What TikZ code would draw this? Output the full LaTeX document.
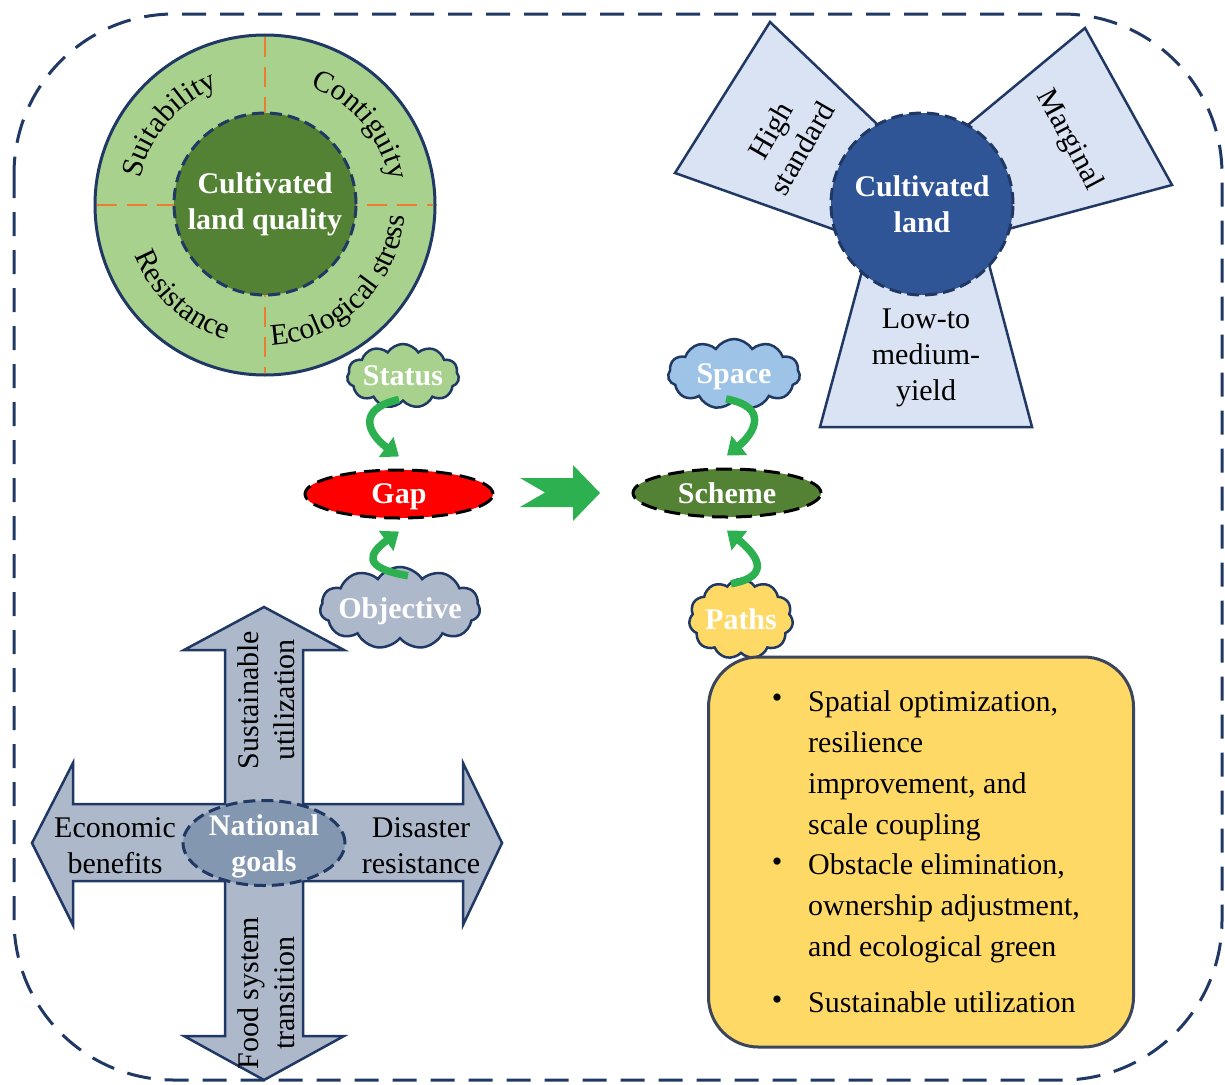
\documentclass[tikz,border=0pt]{standalone}
\usepackage{fontspec}
\setmainfont{Liberation Serif}
\usetikzlibrary{shapes.geometric,shapes.symbols,decorations.text,arrows.meta}
\definecolor{navy}{RGB}{32,56,100}
\definecolor{ringgreen}{RGB}{169,209,142}
\definecolor{darkgreen}{RGB}{84,130,53}
\definecolor{orangeline}{RGB}{237,125,49}
\definecolor{landblue}{RGB}{47,85,151}
\definecolor{petalblue}{RGB}{218,227,243}
\definecolor{crossgrey}{RGB}{173,185,202}
\definecolor{goalgrey}{RGB}{132,151,176}
\definecolor{spaceblue}{RGB}{157,195,230}
\definecolor{pathyellow}{RGB}{255,217,102}
\definecolor{arrowgreen}{RGB}{44,176,80}
\definecolor{gapred}{RGB}{255,0,0}
\definecolor{boxedge}{RGB}{59,70,90}
\begin{document}
\begin{tikzpicture}[x=1pt,y=-1pt,
  txt/.style={font=\fontsize{30}{36}\selectfont, align=center, inner sep=0pt},
  wtxt/.style={font=\fontsize{30}{36}\selectfont\bfseries, text=white, align=center, inner sep=0pt},
  wone/.style={font=\fontsize{30}{36}\selectfont\bfseries, text=white, inner sep=0pt, text depth=0pt},
  itemtxt/.style={font=\fontsize{30}{41}\selectfont, align=left, inner sep=0pt, anchor=north west},
  bul/.style={font=\fontsize{30}{36}\selectfont, inner sep=0pt},
  cloudnode/.style={cloud, cloud puffs=11, cloud puff arc=115, cloud ignores aspect, draw=navy, line width=2.5pt, inner sep=0pt},
  cloudlbl/.style={label={[wone]center:#1}},
  garrow/.style={draw=arrowgreen, line width=7.5pt, -{Triangle[length=16pt,width=24pt]}},
  ovaldash/.style={ellipse, draw=black, line width=3pt, dash pattern=on 16pt off 8pt, inner sep=0pt},
  navydash/.style={draw=navy, line width=3pt, dash pattern=on 12pt off 6pt},
  petal/.style={fill=petalblue, draw=navy, line width=2.5pt, line join=miter},
  orangedash/.style={draw=orangeline, line width=2.5pt, dash pattern=on 20pt off 10pt},
  ringtext/.style={decorate, decoration={text along path, text align=center, text={|\fontsize{30}{30}\selectfont|#1}}}
]
\useasboundingbox (0,0) rectangle (1225,1084);

% outer dashed frame
\draw[draw=navy, line width=3pt, dash pattern=on 24pt off 14pt, rounded corners=160pt] (14,14) rectangle (1222,1080);

% ---------- quality ring ----------
\node[circle, minimum size=340pt, fill=ringgreen, draw=navy, line width=3pt, inner sep=0pt] (ring) at (265,205) {};
\draw[orangedash] (97,205) -- (433,205);
\draw[orangedash] (265,37) -- (265,373);
\node[circle, minimum size=182pt, fill=darkgreen, navydash, inner sep=0pt, wtxt] (quality) at (265,204) {Cultivated\\land quality};
\path[shift={(265,205)}, ringtext=Suitability] (-195:127) arc[start angle=-195, end angle=-85, radius=127];
\path[shift={(265,205)}, ringtext=Contiguity] (-95:127) arc[start angle=-95, end angle=15, radius=127];
\path[shift={(265,205)}, ringtext=Resistance] (-175:140) arc[start angle=-175, end angle=-280, radius=140];
\path[shift={(265,205)}, ringtext=Ecological stress] (-260:140) arc[start angle=-260, end angle=-368, radius=140];

% ---------- cultivated land petals ----------
\draw[petal] (770,22) -- (675,173) -- (900,253) -- (900,146) -- cycle;
\draw[petal] (1085,28) -- (1172,185) -- (945,246) -- (945,144) -- cycle;
\draw[petal] (820,427) -- (1032,427) -- (973,204) -- (880,204) -- cycle;
\node[circle, minimum size=182pt, fill=landblue, navydash, inner sep=0pt, wtxt] (land) at (922,204) {Cultivated\\land};
\node[txt, rotate=60] (high) at (786,139) {High\\standard};
\node[txt, rotate=-62] (marginal) at (1069,140) {Marginal};
\node[txt] (low) at (926,358) {Low-to\\medium-\\yield};

% ---------- gap / scheme ----------
\node[ovaldash, fill=gapred, minimum width=188pt, minimum height=48pt, label={[wone]center:Gap}] (gap) at (399,494) {};
\node[ovaldash, fill=darkgreen, minimum width=188pt, minimum height=48pt, label={[wone]center:Scheme}] (scheme) at (727,493) {};
\fill[arrowgreen] (520,478) -- (573,478) -- (573,465) -- (600,493) -- (573,521) -- (573,507) -- (520,507) -- (545,492.5) -- cycle;

\node[cloudnode, fill=ringgreen, minimum width=112pt, minimum height=64pt, cloudlbl=Status] (status) at (403,376) {};
\node[cloudnode, fill=spaceblue, minimum width=132pt, minimum height=70pt, cloudlbl=Space] (space) at (734,374) {};
\node[cloudnode, fill=crossgrey, minimum width=160pt, minimum height=82pt, cloudlbl=Objective] (objective) at (400,608) {};
\node[cloudnode, fill=pathyellow, minimum width=104pt, minimum height=80pt, cloudlbl=Paths] (paths) at (741,619) {};

\draw[garrow] ([xshift=-4pt,yshift=3pt]status.south) .. controls +(-44,10) and +(-30,-22) .. ([yshift=12pt]gap.north);
\draw[garrow] ([xshift=8pt,yshift=-10pt]objective.north) .. controls +(-47,-8) and +(-30,22) .. ([yshift=-12pt]gap.south);
\draw[garrow] ([xshift=-8pt,yshift=3pt]space.south) .. controls +(44,8) and +(27,-22) .. ([yshift=12pt]scheme.north);
\draw[garrow] ([xshift=-10pt,yshift=-6pt]paths.north) .. controls +(44,-8) and +(27,22) .. ([yshift=-12pt]scheme.south);

% ---------- national goals cross ----------
\draw[fill=crossgrey, draw=navy, line width=2.5pt, line join=miter]
  (264,607) -- (344,650) -- (303,650) -- (303,804) -- (463,804) -- (463,763) -- (502,843)
  -- (463,925) -- (463,881) -- (303,881) -- (303,1036) -- (344,1036) -- (264,1080)
  -- (184,1036) -- (225,1036) -- (225,881) -- (73,881) -- (73,925) -- (32,843)
  -- (73,763) -- (73,804) -- (225,804) -- (225,650) -- (184,650) -- cycle;
\node[ellipse, fill=goalgrey, navydash, minimum width=162pt, minimum height=85pt, inner sep=0pt] (goals) at (264,843) {};
\node[wtxt] (goalstxt) at (264,846) {National\\goals};
\node[txt] (econ) at (115,846) {Economic\\benefits};
\node[txt] (disaster) at (421,846) {Disaster\\resistance};
\node[txt, rotate=90] (sustain) at (266,700) {Sustainable\\utilization};
\node[txt, rotate=90] (food) at (266,993) {Food system\\transition};

% ---------- paths box ----------
\node[draw=boxedge, fill=pathyellow, line width=3pt, rounded corners=50pt, minimum width=425pt, minimum height=390pt] (box) at (921,852) {};
\node[bul] (b1) at (777,701) {\textbullet};
\node[bul] (b2) at (777,865) {\textbullet};
\node[bul] (b3) at (777,1003) {\textbullet};
\node[itemtxt] (i1) at (808,690) {Spatial optimization,\\resilience\\improvement, and\\scale coupling};
\node[itemtxt] (i2) at (808,853) {Obstacle elimination,\\ownership adjustment,\\and ecological green};
\node[itemtxt] (i3) at (808,991) {Sustainable utilization};
\end{tikzpicture}
\end{document}
